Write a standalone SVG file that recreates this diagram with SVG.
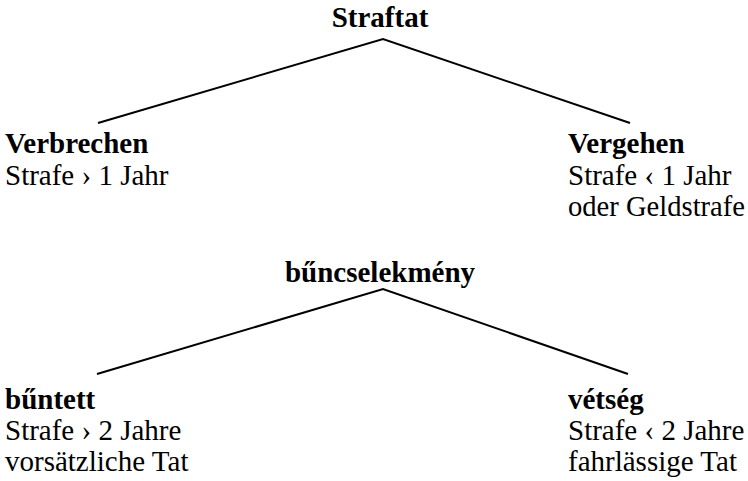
<svg xmlns="http://www.w3.org/2000/svg" width="748" height="481" viewBox="0 0 748 481">
<style>
text{font-family:'Liberation Serif','Times New Roman',Times,'DejaVu Serif',serif;font-size:29px;fill:#000}
.b{font-weight:bold}
.c{text-anchor:middle}
.ln{stroke:#000;stroke-width:2;fill:none}
</style>
<rect width="748" height="481" fill="#fff"/>
<g id="connectors">
<polyline class="ln" points="98,123 383,39 630,123"/>
<polyline class="ln" points="97,374 383,289 628,374"/>
</g>
<g id="straftat"><text class="b c" x="380" y="27">Straftat</text></g>
<g id="verbrechen"><text class="b" x="5" y="153">Verbrechen</text><text x="5" y="185">Strafe › 1 Jahr</text></g>
<g id="vergehen"><text class="b" x="568" y="153">Vergehen</text><text x="568" y="185">Strafe ‹ 1 Jahr</text><text x="568" y="216" textLength="177" lengthAdjust="spacingAndGlyphs">oder Geldstrafe</text></g>
<g id="buncselekmeny"><text class="b c" x="380" y="282">bűncselekmény</text></g>
<g id="buntett"><text class="b" x="5" y="409">bűntett</text><text x="5" y="440">Strafe › 2 Jahre</text><text x="5" y="471">vorsätzliche Tat</text></g>
<g id="vetseg"><text class="b" x="568" y="409">vétség</text><text x="568" y="440">Strafe ‹ 2 Jahre</text><text x="568" y="471">fahrlässige Tat</text></g>
</svg>
